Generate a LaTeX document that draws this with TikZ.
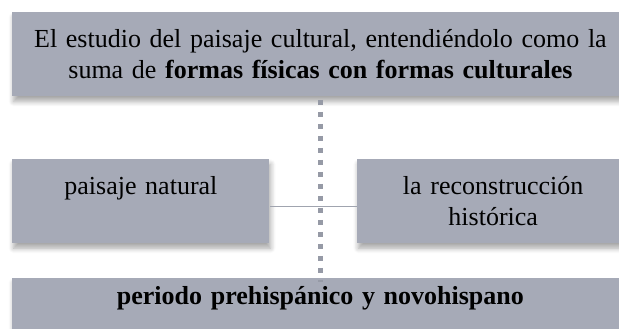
\documentclass[tikz,border=0pt]{standalone}
\usepackage{fontspec}
\setmainfont{Liberation Serif}
\usetikzlibrary{positioning, calc, shadows.blur}
\definecolor{boxgray}{RGB}{166,170,183}
\definecolor{dotgray}{RGB}{150,154,166}
\definecolor{linegray}{RGB}{160,164,175}

\begin{document}
\begin{tikzpicture}[
    x=1pt, y=1pt,
    font=\fontsize{13}{15.5}\selectfont,
    panel/.style={rectangle, fill=boxgray, inner xsep=4pt, inner ysep=0pt, align=center,
        blur shadow={shadow xshift=0.6pt, shadow yshift=-2.5pt, shadow blur steps=6, shadow opacity=35, shadow blur radius=2.5pt}},
    dots/.style={draw=dotgray, line width=2.5pt, dash pattern=on 2.5pt off 3.5pt},
    link/.style={draw=linegray, line width=0.6pt}
]
\useasboundingbox (0,0) rectangle (309.5,-164);

\node[panel, anchor=north west, text width=300pt, text height=17.5pt, text depth=24.5pt] (study) at (6,-6)
    {El estudio del paisaje cultural, entendiéndolo como la\\suma de \textbf{formas físicas con formas culturales}};
\node[panel, text width=120.5pt, text height=17.5pt, text depth=24.5pt, below right=31pt and 0pt of study.south west] (natural) {paisaje natural};
\node[panel, text width=128pt, text height=17.5pt, text depth=24.5pt, right=43.5pt of natural] (historic) {la reconstrucción\\histórica};
\node[panel, text width=300pt, text height=13pt, text depth=17pt, below right=17pt and 0pt of natural.south west] (period)
    {\textbf{periodo prehispánico y novohispano}};

\draw[link] ($(natural.east)+(0,-2.5)$) -- ($(historic.west)+(0,-2.5)$);
\draw[dots] ($(study.south)+(0,-1.5)$) -- ($(period.north)+(0,-2)$);
\end{tikzpicture}
\end{document}
